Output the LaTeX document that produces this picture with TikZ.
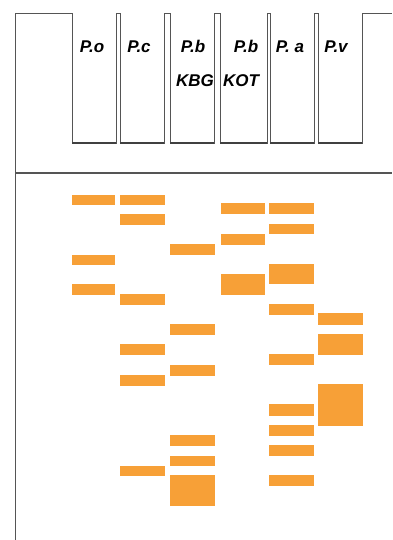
\documentclass[tikz,border=0pt]{standalone}
\usepackage{fontspec}
\setmainfont{Liberation Sans}
\definecolor{band}{RGB}{247,160,55}
\definecolor{edge}{RGB}{85,85,85}
\begin{document}
\begin{tikzpicture}[x=1pt,y=-1pt,
  lbl/.style={anchor=base,inner sep=0pt,font=\fontsize{17}{19}\selectfont\bfseries\itshape,text=black},
  comb/.style={draw=edge,line width=0.9pt},
  wellbottom/.style={draw=black!75,line width=1.8pt},
  bandbox/.style={fill=band,draw=none}]
\useasboundingbox (0,0) rectangle (392,540);
\fill[white] (0,0) rectangle (392,540);
% comb outline
\draw[comb] (15,540)--(15,13)--(72,13)--(72,143)--(116,143)--(116,13)--(120,13)--(120,143)--(164,143)--(164,13)--(170,13)--(170,143)--(214,143)--(214,13)--(220,13)--(220,143)--(267,143)--(267,13)--(270,13)--(270,143)--(314,143)--(314,13)--(318,13)--(318,143)--(362,143)--(362,13)--(392,13);
\foreach \a/\b in {72/116,120/164,170/214,220/267,270/314,318/362}
  \draw[wellbottom] (\a,143)--(\b,143);
\draw[draw=edge,line width=1.2pt] (15,173)--(392,173);
% labels
\node[lbl] (po) at (92,53) {P.o};
\node[lbl] (pc) at (139,53) {P.c};
\node[lbl] (pb1) at (193,53) {P.b};
\node[lbl] (kbg) at (195,87) {KBG};
\node[lbl] (pb2) at (246,53) {P.b};
\node[lbl] (kot) at (241,87) {KOT};
\node[lbl] (pa) at (290,53) {P. a};
\node[lbl] (pv) at (336,53) {P.v};
% lane 1
\foreach \t/\h in {195/205,255/265,284/295}
  \fill[bandbox] (72,\t) rectangle (115,\h);
% lane 2
\foreach \t/\h in {195/205,214/225,294/305,344/355,375/386,466/476}
  \fill[bandbox] (120,\t) rectangle (165,\h);
% lane 3
\foreach \t/\h in {244/255,324/335,365/376,435/446,456/466,475/506}
  \fill[bandbox] (170,\t) rectangle (215,\h);
% lane 4
\foreach \t/\h in {203/214,234/245,274/295}
  \fill[bandbox] (221,\t) rectangle (265,\h);
% lane 5
\foreach \t/\h in {203/214,224/234,264/284,304/315,354/365,404/416,425/436,445/456,475/486}
  \fill[bandbox] (269,\t) rectangle (314,\h);
% lane 6
\foreach \t/\h in {313/325,334/355,384/426}
  \fill[bandbox] (318,\t) rectangle (363,\h);
\end{tikzpicture}
\end{document}
